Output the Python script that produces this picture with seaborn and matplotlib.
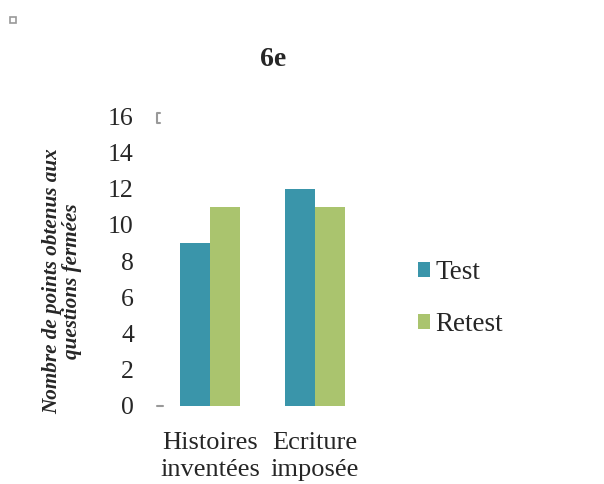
import matplotlib
matplotlib.use("Agg")
import matplotlib.pyplot as plt
import seaborn as sns
import pandas as pd
from matplotlib.lines import Line2D
from matplotlib.patches import Rectangle

categories = ["Histoires\ninventées", "Ecriture\nimposée"]
series = ["Test", "Retest"]
test_values = [9, 12]
retest_values = [11, 11]
colors = ["#3A95AA", "#AAC46E"]

df = pd.DataFrame({
    "Categorie": categories * 2,
    "Serie": ["Test"] * 2 + ["Retest"] * 2,
    "Points": test_values + retest_values,
})

sns.set_style("white")
plt.rcParams["font.family"] = ["Liberation Serif", "DejaVu Serif"]

fig = plt.figure(figsize=(6.04, 4.84), dpi=100)
ax = fig.add_axes([0.2608, 0.1612, 0.3477, 0.599])

sns.barplot(data=df, x="Categorie", y="Points", hue="Serie", hue_order=series,
            palette=colors, width=0.57, saturation=1, linewidth=0, ax=ax, zorder=3)

ax.set_ylim(0, 16)
ax.set_xlim(-0.5, 1.5)
ax.set_yticks(range(0, 17, 2))
ax.tick_params(axis="y", labelsize=18.5, length=0, pad=17)
ax.tick_params(axis="x", labelsize=19, length=0, pad=19)
for lbl in ax.get_xticklabels():
    lbl.set_linespacing(1.3)
for s in ax.spines.values():
    s.set_visible(False)
ax.set_xlabel("")
ax.set_ylabel("Nombre de points obtenus aux\nquestions fermées", fontsize=15.2,
              fontstyle="italic", fontweight="bold", linespacing=1.0)
ax.yaxis.set_label_coords(-0.36, 0.43)

fig.text(0.452, 0.877, "6e", fontsize=20, fontweight="bold", ha="center", va="center")

handles, labels = ax.get_legend_handles_labels()
ax.legend(handles, labels, loc="center left", bbox_to_anchor=(1.125, 0.37), frameon=False,
          fontsize=19.5, handlelength=0.45, handleheight=0.45, handletextpad=0.2,
          labelspacing=1.0)

# small decorative marks seen in the reference
fig.add_artist(Rectangle((0.0166, 0.9525), 0.0099, 0.0124, transform=fig.transFigure,
                         fill=False, edgecolor="#999999", lw=1.2))
fig.add_artist(Line2D([0.2645, 0.2595, 0.2595, 0.2645], [0.767, 0.767, 0.746, 0.746],
                      transform=fig.transFigure, color="#999999", lw=1.5))
fig.add_artist(Line2D([0.2595, 0.2695], [0.161, 0.161], transform=fig.transFigure,
                      color="#999999", lw=1.5))

fig.savefig("out.png", dpi=100)
